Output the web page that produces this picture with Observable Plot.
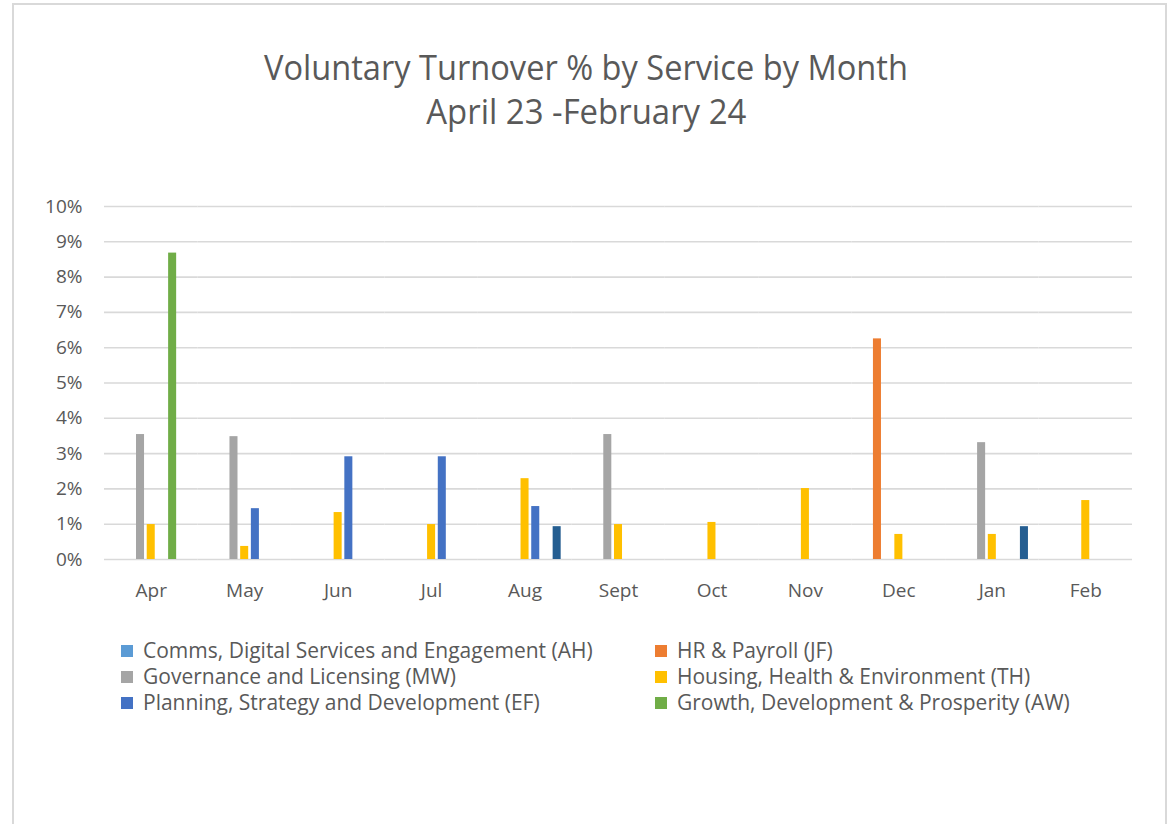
<!DOCTYPE html>
<html>
<head>
<meta charset="utf-8">
<script src="https://cdn.jsdelivr.net/npm/d3@7"></script>
<script src="https://cdn.jsdelivr.net/npm/@observablehq/plot@0.6"></script>
<style>
  body { margin: 0; background: #fff; width: 1169px; height: 824px; position: relative; overflow: hidden; font-family: "Open Sans", sans-serif; color: #595959; }
  #frame { position: absolute; left: 12px; top: 3px; width: 1151px; height: 900px; border: 2px solid #d9d9d9; }
  .tline { position: absolute; left: 0; width: 1172px; text-align: center; white-space: nowrap; font-size: 34px; line-height: 34px; }
  .tline span { display: inline-block; transform-origin: center center; }
  #chart { position: absolute; left: 0; top: 180px; }
  .leg { position: absolute; font-size: 21px; line-height: 22px; white-space: nowrap; }
  .leg i { position: absolute; width: 12px; height: 12px; left: 0; top: 6px; }
  .leg span { position: absolute; left: 22px; top: 0; transform-origin: left center; display: inline-block; }
</style>
</head>
<body>
<div id="frame"></div>
<div class="tline" style="top:50px"><span id="t1">Voluntary Turnover % by Service by Month</span></div>
<div class="tline" style="top:94px"><span id="t2">April 23 -February 24</span></div>
<div id="chart"></div>
<div id="legend"></div>
<script>
// ---- data ----
const months = ["Apr", "May", "Jun", "Jul", "Aug", "Sept", "Oct", "Nov", "Dec", "Jan", "Feb"];
const seriesNames = [
  "Comms, Digital Services and Engagement (AH)",
  "HR & Payroll (JF)",
  "Governance and Licensing (MW)",
  "Housing, Health & Environment (TH)",
  "Planning, Strategy and Development (EF)",
  "Growth, Development & Prosperity (AW)",
  "Unlabelled series"
];
const commsAH     = [null, null, null, null, null, null, null, null, null, null, null];
const hrJF        = [null, null, null, null, null, null, null, null, 6.25, null, null];
const governanceMW= [3.54, 3.48, null, null, null, 3.54, null, null, null, 3.31, null];
const housingTH   = [0.99, 0.37, 1.33, 0.99, 2.29, 0.99, 1.05, 2.01, 0.71, 0.71, 1.67];
const planningEF  = [null, 1.44, 2.91, 2.91, 1.50, null, null, null, null, null, null];
const growthAW    = [8.68, null, null, null, null, null, null, null, null, null, null];
const unlabelled  = [null, null, null, null, 0.93, null, null, null, null, 0.93, null];
const yTicks = [0, 1, 2, 3, 4, 5, 6, 7, 8, 9, 10];
const yTickLabels = ["0%", "1%", "2%", "3%", "4%", "5%", "6%", "7%", "8%", "9%", "10%"];
const legendSeries = seriesNames.slice(0, 6);

// ---- styles ----
const colors = ["#5B9BD5", "#ED7D31", "#A5A5A5", "#FFC000", "#4472C4", "#70AD47", "#255E91"];

const seriesValues = [commsAH, hrJF, governanceMW, housingTH, planningEF, growthAW, unlabelled];
const rows = [];
seriesValues.forEach((vals, si) => {
  vals.forEach((v, mi) => {
    if (v != null) rows.push({month: months[mi], series: seriesNames[si], value: v});
  });
});

const chart = Plot.plot({
  width: 1169,
  height: 440,
  marginLeft: 104,
  marginRight: 37,
  marginTop: 26,
  marginBottom: 61,
  style: {fontFamily: "'Open Sans', sans-serif", fontSize: "19px", color: "#595959", background: "transparent"},
  facet: {data: rows, x: "month"},
  fx: {domain: months, padding: 0, round: false, axis: "bottom", tickSize: 0, tickPadding: 24, label: null},
  x: {domain: seriesNames, axis: null, paddingInner: 0.25, paddingOuter: 0.99, round: false},
  y: {domain: [0, 10], ticks: yTicks, tickFormat: d => yTickLabels[yTicks.indexOf(d)], tickSize: 0, tickPadding: 22, label: null},
  color: {domain: seriesNames, range: colors},
  marks: [
    Plot.ruleY(yTicks, {stroke: "#d9d9d9", strokeWidth: 1.6}),
    Plot.barY(rows, {x: "series", y: "value", fill: "series"})
  ]
});
document.getElementById("chart").appendChild(chart);

// ---- legend ----
const legend = document.getElementById("legend");
const legPos = [
  {left: 121, top: 639}, {left: 655, top: 639},
  {left: 121, top: 665}, {left: 655, top: 665},
  {left: 121, top: 691}, {left: 655, top: 691}
];
legendSeries.forEach((name, i) => {
  const d = document.createElement("div");
  d.className = "leg";
  d.style.left = legPos[i].left + "px";
  d.style.top = legPos[i].top + "px";
  const sw = document.createElement("i");
  sw.style.background = colors[seriesNames.indexOf(name)];
  const t = document.createElement("span");
  t.textContent = name;
  d.appendChild(sw);
  d.appendChild(t);
  legend.appendChild(d);
});

// fit title widths to the reference
function fit(id, target) {
  const el = document.getElementById(id);
  const w = el.getBoundingClientRect().width;
  el.style.transform = "scaleX(" + (target / w) + ")";
}
fit("t1", 644);
fit("t2", 320);
</script>
</body>
</html>
